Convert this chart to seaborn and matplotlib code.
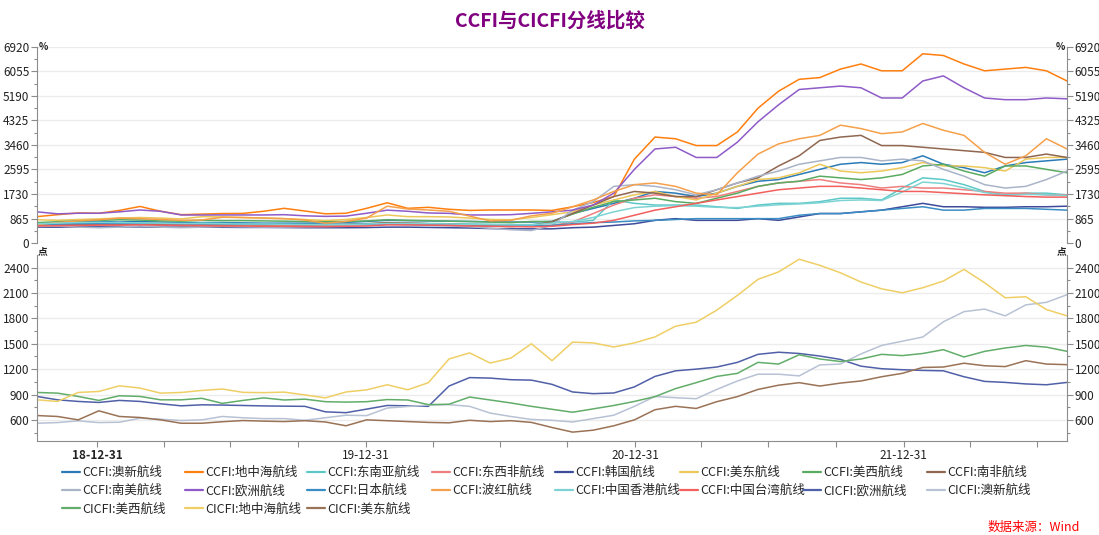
import numpy as np
import pandas as pd
import matplotlib
matplotlib.use('Agg')
import matplotlib.pyplot as plt
import matplotlib.dates as mdates
from matplotlib.ticker import FixedLocator
from matplotlib.lines import Line2D
import seaborn as sns

# ---- data (4-week samples) ----
dates = pd.date_range('2018-10-10', periods=51, freq='28D')

ccfi_aoxin = [700, 720, 740, 760, 740, 760, 740, 720,
              720, 720, 710, 700, 700, 700, 710, 730, 760, 800, 790, 780, 770, 760, 750, 740, 740,
              760, 1040, 1220, 1400, 1580, 1820, 1760, 1640, 1760, 2000, 2180, 2240, 2420, 2600, 2780, 2840,
              2780, 2840, 3080, 2780, 2660, 2480, 2720, 2840, 2900, 2960]
ccfi_dizhonghai = [930, 1000, 1060, 1050, 1150, 1290, 1120, 1000,
                   1020, 1040, 1045, 1120, 1224, 1130, 1030, 1050, 1224, 1420, 1224, 1260, 1190, 1150, 1165, 1165, 1165,
                   1150, 1280, 1430, 1640, 2960, 3740, 3680, 3440, 3440, 3920, 4760, 5360, 5780, 5840, 6140, 6320,
                   6080, 6080, 6680, 6620, 6320, 6080, 6140, 6200, 6080, 5720]
ccfi_dongnanya = [650, 670, 700, 720, 700, 700, 680, 660,
                  700, 690, 680, 680, 670, 660, 650, 660, 680, 700, 700, 690, 680, 670, 660, 650, 650,
                  740, 740, 800, 1520, 1400, 1340, 1340, 1340, 1280, 1220, 1340, 1400, 1400, 1460, 1580, 1580,
                  1520, 1940, 2300, 2240, 2060, 1820, 1700, 1760, 1760, 1700]
ccfi_dongxifei = [620, 640, 660, 680, 680, 700, 690, 670,
                  660, 660, 650, 650, 640, 640, 640, 650, 660, 700, 700, 680, 660, 640, 620, 600, 600,
                  620, 740, 1040, 1340, 1580, 1700, 1640, 1580, 1640, 1820, 2000, 2120, 2180, 2240, 2120, 2060,
                  1940, 2000, 1940, 1940, 1880, 1820, 1760, 1760, 1700, 1700]
ccfi_hanguo = [560, 560, 570, 570, 570, 570, 560, 560,
               560, 555, 550, 550, 545, 540, 540, 540, 545, 560, 560, 550, 540, 530, 510, 500, 500,
               500, 540, 560, 620, 680, 800, 860, 800, 800, 800, 860, 800, 920, 1040, 1040, 1100,
               1160, 1280, 1400, 1280, 1280, 1260, 1260, 1280, 1280, 1300]
ccfi_meidong = [820, 800, 830, 850, 880, 900, 880, 850,
                930, 920, 900, 880, 860, 830, 790, 830, 900, 990, 930, 930, 920, 880, 830, 820, 900,
                1000, 1100, 1340, 1520, 1700, 1820, 1640, 1520, 1760, 2000, 2240, 2300, 2480, 2780, 2540, 2480,
                2540, 2660, 2840, 2720, 2720, 2660, 2540, 2960, 3020, 3020]
ccfi_meixi = [720, 750, 780, 800, 820, 810, 780, 770,
              800, 790, 790, 780, 770, 760, 750, 760, 780, 820, 800, 790, 770, 760, 740, 720, 760,
              760, 1020, 1260, 1460, 1520, 1580, 1460, 1400, 1580, 1760, 2000, 2120, 2180, 2360, 2300, 2240,
              2300, 2420, 2720, 2780, 2540, 2360, 2720, 2720, 2600, 2480]
ccfi_nanfei = [600, 620, 640, 660, 650, 660, 640, 620,
               620, 630, 640, 640, 650, 640, 640, 650, 680, 720, 700, 680, 660, 640, 600, 580, 620,
               750, 1040, 1340, 1640, 1820, 1760, 1640, 1640, 1880, 2120, 2300, 2720, 3080, 3620, 3740, 3800,
               3440, 3440, 3380, 3320, 3260, 3200, 3020, 3020, 3140, 3020]
ccfi_nanmei = [580, 600, 560, 540, 560, 600, 560, 540,
               560, 580, 570, 560, 560, 570, 580, 590, 620, 660, 640, 620, 600, 580, 520, 470, 440,
               620, 1160, 1460, 2000, 2060, 2000, 1880, 1700, 1880, 2120, 2360, 2540, 2780, 2900, 3020, 3020,
               2900, 2960, 2900, 2600, 2360, 2060, 1940, 2000, 2240, 2540]
ccfi_ouzhou = [1100, 1030, 1050, 1050, 1100, 1165, 1120, 990,
               988, 990, 990, 990, 1000, 960, 940, 950, 1050, 1160, 1120, 1060, 1047, 990, 990, 1000, 1047,
               1100, 1160, 1340, 1760, 2600, 3320, 3380, 3020, 3020, 3560, 4280, 4880, 5420, 5480, 5540, 5480,
               5120, 5120, 5720, 5900, 5480, 5120, 5060, 5060, 5120, 5090]
ccfi_riben = [660, 670, 680, 690, 690, 690, 690, 680,
              680, 680, 670, 670, 670, 670, 660, 660, 670, 680, 680, 670, 660, 650, 640, 630, 620,
              620, 680, 720, 740, 780, 800, 830, 860, 860, 860, 860, 860, 980, 1040, 1040, 1100,
              1160, 1220, 1280, 1160, 1160, 1220, 1220, 1220, 1190, 1160]
ccfi_bohong = [650, 720, 780, 820, 880, 860, 830, 800,
               812, 910, 900, 880, 860, 810, 700, 760, 880, 1300, 1200, 1165, 1120, 950, 780, 800, 960,
               1050, 1280, 1520, 1820, 2060, 2120, 2000, 1760, 1700, 2480, 3140, 3500, 3680, 3800, 4160, 4040,
               3860, 3920, 4220, 3980, 3800, 3200, 2780, 3080, 3680, 3320]
ccfi_xianggang = [680, 700, 720, 730, 720, 710, 700, 690,
                  690, 680, 670, 670, 660, 650, 640, 650, 670, 690, 690, 680, 670, 660, 650, 640, 640,
                  700, 760, 900, 1100, 1250, 1300, 1320, 1300, 1260, 1250, 1300, 1350, 1380, 1420, 1500, 1520,
                  1500, 1800, 2150, 2100, 1950, 1780, 1680, 1720, 1700, 1680]
ccfi_taiwan = [600, 610, 620, 630, 630, 640, 630, 620,
               610, 600, 600, 590, 590, 580, 580, 590, 600, 640, 640, 630, 620, 600, 590, 580, 570,
               590, 650, 700, 800, 980, 1160, 1280, 1400, 1520, 1640, 1760, 1880, 1940, 2000, 2000, 1940,
               1880, 1820, 1820, 1780, 1740, 1700, 1670, 1640, 1620, 1620]

cicfi_ouzhou = [877, 837, 818, 806, 830, 818, 790, 766,
                778, 775, 770, 765, 762, 760, 695, 685, 727, 770, 766, 760, 1000, 1100, 1094, 1075, 1070,
                1020, 930, 910, 918, 990, 1114, 1180, 1200, 1225, 1280, 1375, 1400, 1385, 1355, 1315, 1235,
                1205, 1193, 1185, 1180, 1110, 1055, 1043, 1025, 1015, 1043]
cicfi_aoxin = [560, 568, 588, 568, 572, 620, 608, 592,
               600, 640, 625, 615, 615, 595, 625, 655, 650, 740, 758, 775, 780, 760, 680, 640, 605,
               595, 575, 615, 655, 760, 877, 862, 850, 960, 1060, 1140, 1140, 1120, 1250, 1260, 1380,
               1480, 1530, 1580, 1760, 1880, 1910, 1830, 1960, 1990, 2080]
cicfi_meixi = [924, 916, 877, 830, 885, 877, 837, 837,
               855, 795, 830, 860, 835, 845, 815, 810, 815, 840, 835, 780, 785, 870, 835, 800, 760,
               725, 690, 730, 770, 818, 875, 970, 1040, 1114, 1150, 1280, 1260, 1370, 1320, 1290, 1320,
               1375, 1360, 1385, 1430, 1344, 1410, 1450, 1480, 1460, 1411]
cicfi_dizhonghai = [837, 818, 924, 936, 1003, 976, 916, 924,
                    948, 965, 925, 922, 928, 895, 860, 930, 955, 1015, 956, 1040, 1320, 1392, 1272, 1330, 1500,
                    1300, 1520, 1510, 1462, 1510, 1581, 1708, 1755, 1898, 2072, 2262, 2350, 2500, 2428, 2340, 2230,
                    2150, 2103, 2163, 2242, 2380, 2222, 2044, 2056, 1905, 1830]
cicfi_meidong = [651, 640, 600, 707, 640, 628, 600, 560,
                 560, 578, 592, 585, 580, 590, 575, 530, 600, 590, 580, 570, 565, 595, 580, 590, 570,
                 510, 455, 478, 530, 600, 720, 760, 735, 815, 875, 960, 1010, 1040, 1000, 1035, 1060,
                 1110, 1150, 1220, 1225, 1270, 1240, 1230, 1300, 1260, 1253]

# legend order (row by row, as in the picture)
series_names = ['CCFI:澳新航线', 'CCFI:地中海航线', 'CCFI:东南亚航线', 'CCFI:东西非航线',
                'CCFI:韩国航线', 'CCFI:美东航线', 'CCFI:美西航线', 'CCFI:南非航线',
                'CCFI:南美航线', 'CCFI:欧洲航线', 'CCFI:日本航线', 'CCFI:波红航线',
                'CCFI:中国香港航线', 'CCFI:中国台湾航线', 'CICFI:欧洲航线', 'CICFI:澳新航线',
                'CICFI:美西航线', 'CICFI:地中海航线', 'CICFI:美东航线']
series_values = [ccfi_aoxin, ccfi_dizhonghai, ccfi_dongnanya, ccfi_dongxifei,
                 ccfi_hanguo, ccfi_meidong, ccfi_meixi, ccfi_nanfei,
                 ccfi_nanmei, ccfi_ouzhou, ccfi_riben, ccfi_bohong,
                 ccfi_xianggang, ccfi_taiwan, cicfi_ouzhou, cicfi_aoxin,
                 cicfi_meixi, cicfi_dizhonghai, cicfi_meidong]
series_colors = ['#2a7bb8', '#ff7f0e', '#5ec8c8', '#ef7f7f',
                 '#3d4b9a', '#ecc85a', '#5aab61', '#8f6750',
                 '#aab4c8', '#8e5bc8', '#3a8cc4', '#f5a04a',
                 '#7dd3d3', '#f25f5c', '#5060a8', '#b8c2d4',
                 '#62ad6a', '#efcf65', '#9a7256']
palette = dict(zip(series_names, series_colors))

df = pd.DataFrame({
    'date': np.tile(dates, len(series_names)),
    'value': np.concatenate(series_values),
    'series': np.repeat(series_names, len(dates)),
})
top_names = [n for n in series_names if n.startswith('CCFI')]
bottom_names = [n for n in series_names if n.startswith('CICFI')]

# ---- style ----
sns.set_theme(style='white')
plt.rcParams['font.family'] = ['Noto Sans CJK SC', 'DejaVu Sans']
plt.rcParams['axes.unicode_minus'] = False

W, H = 1099, 535
fig = plt.figure(figsize=(W / 100, H / 100), dpi=100)
ax1 = fig.add_axes([37 / W, 1 - 243 / H, 1030 / W, 196 / H])
ax2 = fig.add_axes([37 / W, 1 - 441 / H, 1030 / W, 186 / H])

sns.lineplot(data=df[df['series'].isin(top_names)], x='date', y='value', hue='series',
             hue_order=top_names, palette=palette, legend=False, errorbar=None,
             linewidth=1.1, ax=ax1)
sns.lineplot(data=df[df['series'].isin(bottom_names)], x='date', y='value', hue='series',
             hue_order=bottom_names, palette=palette, legend=False, errorbar=None,
             linewidth=1.1, ax=ax2)

axis_grey = '#8c8c8c'


def style_y(ax, lo, hi, majors, minors):
    ax.set_ylim(lo, hi)
    ax.yaxis.set_major_locator(FixedLocator(majors))
    ax.yaxis.set_minor_locator(FixedLocator(minors))
    ax.yaxis.set_ticks_position('both')
    ax.tick_params(axis='y', which='both', direction='out', color=axis_grey,
                   labelleft=True, labelright=True, labelsize=8.5,
                   labelcolor='#222222', pad=1.5, width=0.8)
    ax.tick_params(axis='y', which='major', length=4)
    ax.tick_params(axis='y', which='minor', length=2.5)
    ax.grid(axis='y', color='#ececec', linewidth=1)
    ax.set_axisbelow(True)
    for side in ['left', 'right']:
        ax.spines[side].set_color(axis_grey)
        ax.spines[side].set_linewidth(0.8)
    ax.spines['top'].set_visible(False)
    ax.set_xlabel('')
    ax.set_ylabel('')


style_y(ax1, 0, 6920, np.arange(0, 6921, 865), np.arange(432.5, 6920, 865))
style_y(ax2, 350, 2550, np.arange(600, 2401, 300), np.arange(450, 2550, 300))

for ax in (ax1, ax2):
    ax.set_xlim(dates[0], dates[-1])

ax1.spines['bottom'].set_visible(False)
ax1.tick_params(axis='x', which='both', bottom=False, labelbottom=False)

ax2.spines['bottom'].set_color(axis_grey)
ax2.spines['bottom'].set_linewidth(0.8)
year_ticks = pd.to_datetime(['2018-12-31', '2019-12-31', '2020-12-31', '2021-12-31'])
quarter_ticks = pd.to_datetime([f'{y}-{md}' for y in range(2018, 2023)
                                for md in ('03-31', '06-30', '09-30', '12-31')])
ax2.xaxis.set_major_locator(FixedLocator(mdates.date2num(year_ticks)))
ax2.xaxis.set_major_formatter(mdates.DateFormatter('%y-%m-%d'))
ax2.xaxis.set_minor_locator(FixedLocator(mdates.date2num(quarter_ticks)))
ax2.tick_params(axis='x', which='both', bottom=True, direction='out', color=axis_grey,
                length=4, width=0.8, labelsize=8.5, labelcolor='#222222', pad=2)
ax2.get_xticklabels()[0].set_fontweight('bold')

# units
unit_kw = dict(fontsize=7, color='#222222', fontweight='bold')
fig.text(39 / W, 1 - 47 / H, '%', ha='left', va='center', **unit_kw)
fig.text(1065 / W, 1 - 47 / H, '%', ha='right', va='center', **unit_kw)
fig.text(38 / W, 1 - 251 / H, '点', ha='left', va='center', **unit_kw)
fig.text(1066 / W, 1 - 251 / H, '点', ha='right', va='center', **unit_kw)

# title and source
fig.text(0.5, 1 - 21 / H, 'CCFI与CICFI分线比较', ha='center', va='center',
         fontsize=14, fontweight='bold', color='#800080')
fig.text(1080 / W, 1 - 527 / H, '数据来源：Wind', ha='right', va='center',
         fontsize=9, color='#ff0000', style='italic')

# legend: 8 evenly spaced columns, filled row by row
col_x = [62, 185, 307, 432, 555, 680, 803, 927]
handles = [Line2D([0], [0], color=palette[n], linewidth=1.6) for n in series_names]
for j, x in enumerate(col_x):
    idx = list(range(j, len(series_names), 8))
    fig.legend([handles[i] for i in idx], [series_names[i] for i in idx],
               loc='upper left', bbox_to_anchor=(x / W, 1 - 466 / H),
               frameon=False, fontsize=9, handlelength=1.45, handletextpad=0.15,
               labelspacing=0.42, borderpad=0, borderaxespad=0)

fig.savefig('out.png', dpi=100)
